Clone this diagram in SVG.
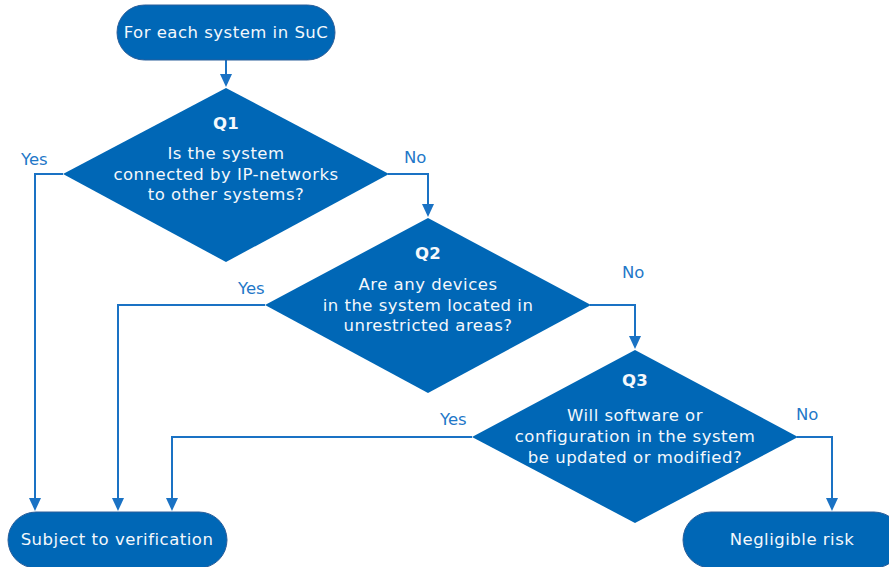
<svg xmlns="http://www.w3.org/2000/svg" width="889" height="567" viewBox="0 0 889 567">
  <defs>
    <!-- arrowhead: base sits on the line end, tip extends 13px beyond -->
    <marker id="arrow" viewBox="0 0 13 12" refX="1" refY="6" markerWidth="13" markerHeight="12" markerUnits="userSpaceOnUse" orient="auto">
      <path d="M0,0 L13,6 L0,12 Z" fill="#1a72c4"/>
    </marker>
    <style>
      .shape { fill: #0067b6; stroke: #2a5e9a; stroke-width: 1; }
      .diamond { fill: #0067b6; }
      .txt { font-family: "DejaVu Sans", Verdana, sans-serif; font-size: 16.5px; letter-spacing: 0.5px; fill: #f4f8fc; text-anchor: middle; }
      .bold { font-weight: bold; letter-spacing: 0.3px; }
      .lbl { font-family: "DejaVu Sans", Verdana, sans-serif; font-size: 16.5px; fill: #1f78c8; }
      .conn { fill: none; stroke: #1a72c4; stroke-width: 2; marker-end: url(#arrow); }
    </style>
  </defs>
  <rect width="889" height="567" fill="#ffffff"/>

  <!-- connectors -->
  <g id="connectors">
    <path class="conn" d="M226,60 V75"/>
    <path class="conn" d="M63,174 H35 V499"/>
    <path class="conn" d="M388,174 H428 V205"/>
    <path class="conn" d="M265,305 H118 V499"/>
    <path class="conn" d="M590,305 H635 V337"/>
    <path class="conn" d="M472,437 H172 V499"/>
    <path class="conn" d="M797,437 H832 V499"/>
    <text class="lbl" x="21" y="165">Yes</text>
    <text class="lbl" x="404" y="163">No</text>
    <text class="lbl" x="238" y="294">Yes</text>
    <text class="lbl" x="622" y="278">No</text>
    <text class="lbl" x="440" y="425">Yes</text>
    <text class="lbl" x="796" y="420">No</text>
  </g>

  <g id="start">
    <rect class="shape" x="117" y="5" width="218" height="55" rx="27.5"/>
    <text class="txt" x="226" y="38">For each system in SuC</text>
  </g>

  <g id="q1">
    <polygon class="diamond" points="226,88 389,174 226,262 63,174"/>
    <text class="txt bold" x="226" y="129">Q1</text>
    <text class="txt" x="226" y="159">Is the system</text>
    <text class="txt" x="226" y="180">connected by IP-networks</text>
    <text class="txt" x="226" y="200">to other systems?</text>
  </g>

  <g id="q2">
    <polygon class="diamond" points="428,218 591,305 428,393 265,305"/>
    <text class="txt bold" x="428" y="259">Q2</text>
    <text class="txt" x="428" y="290">Are any devices</text>
    <text class="txt" x="428" y="311">in the system located in</text>
    <text class="txt" x="428" y="331">unrestricted areas?</text>
  </g>

  <g id="q3">
    <polygon class="diamond" points="635,350 798,437 635,523 472,437"/>
    <text class="txt bold" x="635" y="386">Q3</text>
    <text class="txt" x="635" y="421">Will software or</text>
    <text class="txt" x="635" y="442">configuration in the system</text>
    <text class="txt" x="635" y="463">be updated or modified?</text>
  </g>

  <g id="verify">
    <rect class="shape" x="8" y="512" width="219" height="56" rx="28"/>
    <text class="txt" x="117" y="545">Subject to verification</text>
  </g>

  <g id="negligible">
    <rect class="shape" x="683" y="512" width="219" height="56" rx="28"/>
    <text class="txt" x="792" y="545">Negligible risk</text>
  </g>
</svg>
